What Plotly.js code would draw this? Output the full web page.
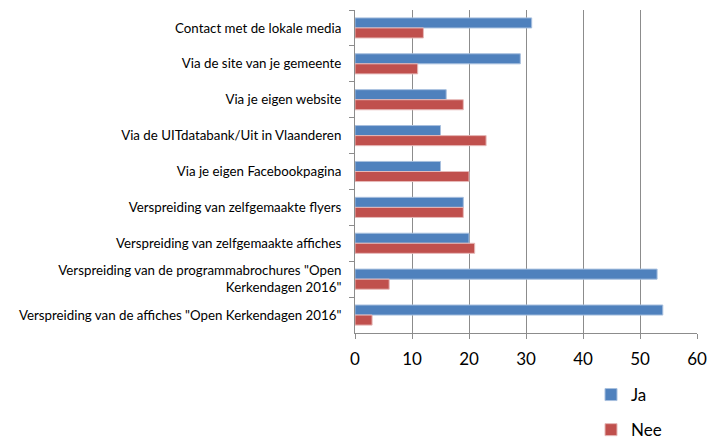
<!DOCTYPE html>
<html><head><meta charset="utf-8">
<script src="https://cdn.plot.ly/plotly-3.0.1.min.js"></script>
<style>html,body{margin:0;padding:0;background:#fff}#c{width:721px;height:441px}</style>
</head><body><div id="c"></div>
<script>
const categories = [
  "Contact met de lokale media",
  "Via de site van je gemeente",
  "Via je eigen website",
  "Via de UITdatabank/Uit in Vlaanderen",
  "Via je eigen Facebookpagina",
  "Verspreiding van zelfgemaakte flyers",
  "Verspreiding van zelfgemaakte affiches",
  "Verspreiding van de programmabrochures \"Open<br>Kerkendagen 2016\"",
  "Verspreiding van de affiches \"Open Kerkendagen 2016\""
];
const ja  = [31, 29, 16, 15, 15, 19, 20, 53, 54];
const nee = [12, 11, 19, 23, 20, 19, 21, 6, 3];
const xTicks = [0, 10, 20, 30, 40, 50, 60];

const font = "Lato, sans-serif";
const traces = [
  {type:'bar', orientation:'h', name:'Ja', y:categories, x:ja, legendgroup:'a',
   marker:{color:'#4F81BD', line:{color:'#A7BFDE', width:1}}},
  {type:'bar', orientation:'h', name:'Nee', y:categories, x:nee, legendgroup:'b',
   marker:{color:'#C0504D', line:{color:'#E6B9B8', width:1}}}
];
const layout = {
  width:721, height:441,
  margin:{l:355, r:24, t:10, b:108, autoexpand:false},
  paper_bgcolor:'#fff', plot_bgcolor:'#fff',
  font:{family:font, color:'#000', size:13.3},
  barmode:'group', bargap:0.44, bargroupgap:0,
  xaxis:{range:[0,60], tickvals:xTicks, showgrid:true, gridcolor:'#8c8c8c', gridwidth:1,
    showline:true, linecolor:'#8c8c8c', ticks:'outside', ticklen:5, tickcolor:'#8c8c8c',
    zeroline:false, tickfont:{size:17, family:font}, ticklabelstandoff:6, fixedrange:true},
  yaxis:{autorange:'reversed', type:'category', showline:true, linecolor:'#8c8c8c',
    ticks:'outside', tickson:'boundaries', ticklen:5, tickcolor:'#8c8c8c',
    ticklabelstandoff:10,
    tickfont:{size:13.3, family:font}, showgrid:false, zeroline:false},
  showlegend:true,
  legend:{x:591/721, xanchor:'left', xref:'container', yref:'container', y:1-377/441, yanchor:'top', orientation:'v',
    font:{size:17, family:font}, tracegroupgap:10, bgcolor:'rgba(0,0,0,0)'}
};
Plotly.newPlot('c', traces, layout, {displayModeBar:false, staticPlot:true});
</script></body></html>
